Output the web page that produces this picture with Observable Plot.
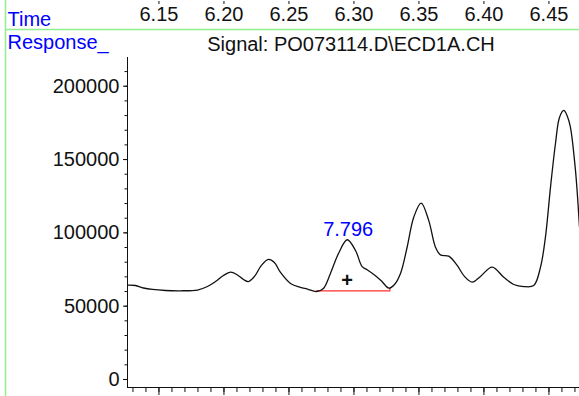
<!DOCTYPE html>
<html><head><meta charset="utf-8">
<script src="https://cdn.jsdelivr.net/npm/d3@7"></script>
<script src="https://cdn.jsdelivr.net/npm/@observablehq/plot@0.6"></script>
<style>body{margin:0;background:#fff} svg{display:block}</style>
</head><body><div id="chart"></div>
<script>
const times = [6.1258,6.1319,6.1381,6.1450,6.1550,6.1665,6.1796,6.1873,6.1935,6.1996,6.2050,6.2104,6.2150,6.2188,6.2235,6.2288,6.2342,6.2388,6.2435,6.2512,6.2588,6.2642,6.2712,6.2765,6.2819,6.2881,6.2948,6.3012,6.3063,6.3104,6.3158,6.3212,6.3268,6.3312,6.3358,6.3409,6.3460,6.3517,6.3575,6.3627,6.3665,6.3729,6.3794,6.3850,6.3909,6.3973,6.4063,6.4152,6.4229,6.4306,6.4383,6.4435,6.4473,6.4512,6.4550,6.4581,6.4614,6.4642,6.4665,6.4704,6.4735];
const responses = [64300,64100,62400,61400,60700,60500,61000,63400,66800,70900,73200,71300,68200,66800,70300,77800,81900,79800,73000,65500,62800,61700,60000,62100,72300,85900,95300,88000,77000,74700,71300,67200,62300,64800,72300,90200,110700,120300,108500,90200,85000,84100,77800,70300,66400,70300,76600,69800,64800,63400,64100,76600,97100,131200,160800,178700,183500,179400,172100,142600,103900];
const baselineTimes = [6.2712, 6.3276, 6.3276];
const baselineValues = [60400, 60400, 62300];
const peakTimes = [6.2948];
const peakValues = [95300];
const peakLabels = ["7.796"];
const markerTimes = [6.2948];
const markerValues = [67500];
const timeTicks = [6.15, 6.20, 6.25, 6.30, 6.35, 6.40, 6.45];
const timeMinorTicks = [6.13,6.14,6.15,6.16,6.17,6.18,6.19,6.20,6.21,6.22,6.23,6.24,6.25,6.26,6.27,6.28,6.29,6.30,6.31,6.32,6.33,6.34,6.35,6.36,6.37,6.38,6.39,6.40,6.41,6.42,6.43,6.44,6.45,6.46,6.47];
const responseTicks = [0, 50000, 100000, 150000, 200000];
const responseMinorTicks = [0,10000,20000,30000,40000,50000,60000,70000,80000,90000,100000,110000,120000,130000,140000,150000,160000,170000,180000,190000,200000,210000];
const title = "Signal: PO073114.D\\ECD1A.CH";
const xLabel = "Time";
const yLabel = "Response_";

const trace = times.map((t, i) => ({t, v: responses[i]}));
const baseline = baselineTimes.map((t, i) => ({t, v: baselineValues[i]}));
const peaks = peakTimes.map((t, i) => ({t, v: peakValues[i], label: peakLabels[i]}));
const markers = markerTimes.map((t, i) => ({t, v: markerValues[i]}));
const xDomain = [6.1258, 6.4735];
const yDomain = [-5460, 219600];
const blank = () => "";

const plot = Plot.plot({
  width: 579, height: 396,
  marginLeft: 127, marginRight: 0, marginTop: 57, marginBottom: 9,
  x: {domain: xDomain},
  y: {domain: yDomain},
  style: {fontFamily: "'Liberation Sans', Arial, sans-serif", fontSize: "20px", background: "white", overflow: "visible", color: "#111"},
  marks: [
    Plot.ruleX([xDomain[0]], {stroke: "#111"}),
    Plot.ruleY([yDomain[0]], {stroke: "#111"}),
    Plot.axisY({ticks: responseTicks, tickSize: 4, tickPadding: 4, tickFormat: d3.format("d"), label: null, fill: "#111"}),
    Plot.axisY({ticks: responseMinorTicks, tickSize: 2.5, tickFormat: blank, label: null}),
    Plot.axisX({anchor: "bottom", ticks: timeTicks, tickSize: 8, tickFormat: blank, label: null}),
    Plot.axisX({anchor: "bottom", ticks: timeMinorTicks, tickSize: 5, tickFormat: blank, label: null}),
    Plot.axisX({anchor: "top", ticks: timeTicks, tickSize: 3, dy: -54, tickFormat: blank, label: null}),
    Plot.axisX({anchor: "top", ticks: timeTicks, tickSize: 0, tickPadding: 0, dy: -37, tickFormat: d3.format(".2f"), label: null, fill: "#111"}),
    Plot.line(baseline, {x: "t", y: "v", stroke: "#ff3030", strokeWidth: 1.2}),
    Plot.line(trace, {x: "t", y: "v", curve: "catmull-rom", stroke: "#111", strokeWidth: 1.3, clip: true}),
    Plot.text(peaks, {x: "t", y: "v", text: "label", lineAnchor: "bottom", dy: -4, dx: 1, fill: "#0000ff"}),
    Plot.text(markers, {x: "t", y: "v", text: () => "+", fontWeight: "bold", fill: "#111"}),
    Plot.text([xLabel], {frameAnchor: "top-left", dx: -120, dy: -32, textAnchor: "start", lineAnchor: "bottom", fill: "#0000ff"}),
    Plot.text([yLabel], {frameAnchor: "top-left", dx: -120, dy: -9, textAnchor: "start", lineAnchor: "bottom", fill: "#0000ff"}),
    Plot.text([title], {frameAnchor: "top", dx: -2.5, dy: -7, lineAnchor: "bottom", fill: "#111"})
  ]
});
const svg = d3.select(plot);
svg.append("line").attr("x1", 5.5).attr("x2", 5.5).attr("y1", 0).attr("y2", 396).attr("stroke", "#90f090").attr("stroke-width", 1.5);
svg.append("line").attr("x1", 5.5).attr("x2", 579).attr("y1", 29.5).attr("y2", 29.5).attr("stroke", "#90f090").attr("stroke-width", 1.5);
document.getElementById("chart").appendChild(plot);
</script>
</body></html>
